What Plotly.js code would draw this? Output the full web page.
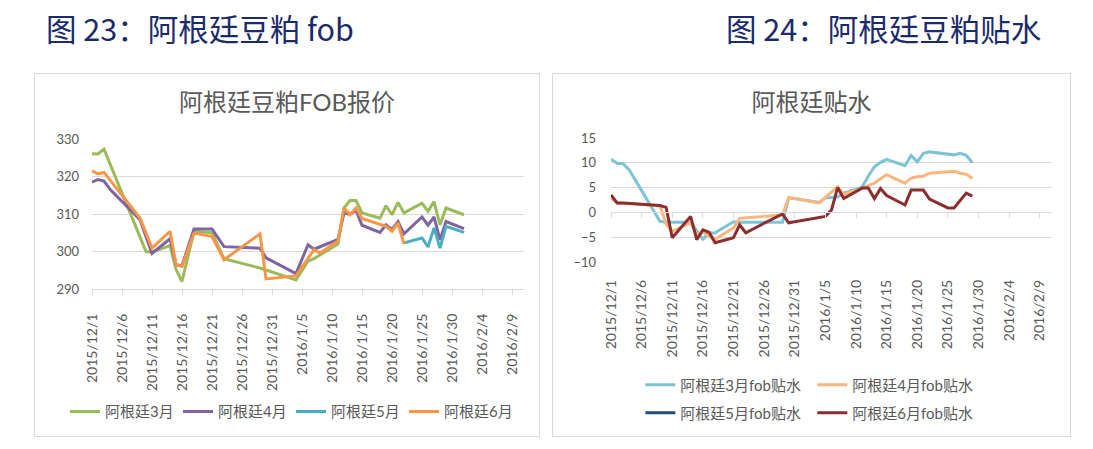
<!DOCTYPE html>
<html>
<head>
<meta charset="utf-8">
<script src="https://cdn.plot.ly/plotly-3.0.1.min.js"></script>
<style>
  html, body { margin: 0; padding: 0; background: #ffffff; width: 1093px; height: 449px; overflow: hidden; }
  .hdr { position: absolute; font-family: 'Noto Sans CJK SC', sans-serif; font-size: 30.5px; line-height: 32px; color: #1b2a6b; white-space: nowrap; }
  .frame { position: absolute; border: 1px solid #d9d9d9; background: #fff; }
</style>
</head>
<body>
<div class="hdr" style="left:46px; top:12px;">图 23：阿根廷豆粕 fob</div>
<div class="hdr" style="left:726px; top:12px;">图 24：阿根廷豆粕贴水</div>
<div class="frame" style="left:34px; top:73px;"><div id="c1" style="width:504px;height:362px;"></div></div>
<div class="frame" style="left:552px; top:73px;"><div id="c2" style="width:517px;height:362px;"></div></div>
<script>
// ---------- Chart 23: Argentine soymeal FOB quotes ----------
const fobDates = ['2015-12-01','2015-12-02','2015-12-03','2015-12-04','2015-12-09','2015-12-10','2015-12-11','2015-12-14','2015-12-15','2015-12-16','2015-12-18','2015-12-21','2015-12-23','2015-12-29','2015-12-30','2016-01-04','2016-01-06','2016-01-07','2016-01-08','2016-01-11','2016-01-12','2016-01-13','2016-01-14','2016-01-15','2016-01-18','2016-01-19','2016-01-20','2016-01-21','2016-01-22','2016-01-25','2016-01-26','2016-01-27','2016-01-28','2016-01-29','2016-02-01'];
const fobMar = [326.1,326.0,327.3,null,null,300.0,299.8,301.6,295.2,292.0,305.4,305.0,298.1,295.6,null,292.4,297.4,298.1,null,302.0,311.6,313.6,313.6,310.3,308.9,312.2,309.8,313.1,310.3,312.9,310.7,313.3,307.1,311.6,309.8];
const fobApr = [318.5,319.2,318.8,316.6,308.5,null,299.5,303.4,296.5,296.2,306.0,306.0,301.3,300.9,298.3,294.1,301.8,300.6,null,303.2,310.3,309.9,311.0,307.0,305.1,307.1,305.9,308.0,304.7,309.2,307.0,309.2,303.1,308.0,306.1];
const fobMay = [null,null,null,null,null,null,null,null,null,null,null,null,null,null,null,null,null,null,null,null,null,null,null,null,null,null,null,null,302.3,303.6,301.2,306.3,300.9,306.7,305.1];
const fobJun = [321.5,320.7,321.1,null,308.9,null,300.9,305.4,296.5,296.0,304.9,304.0,297.8,304.7,292.7,293.5,null,300.5,299.6,302.8,311.6,309.8,311.6,308.8,null,306.7,305.4,307.6,302.0,null,null,null,null,null,null];
const fobNames = ['阿根廷3月','阿根廷4月','阿根廷5月','阿根廷6月'];
const fobColors = ['#9BBB59','#8064A2','#4BACC6','#F79646'];

// ---------- Chart 24: Argentine premiums ----------
const premDates = ['2015-12-01','2015-12-02','2015-12-03','2015-12-04','2015-12-09','2015-12-10','2015-12-11','2015-12-14','2015-12-15','2015-12-16','2015-12-17','2015-12-18','2015-12-21','2015-12-22','2015-12-23','2015-12-29','2015-12-30','2015-12-31','2016-01-04','2016-01-05','2016-01-06','2016-01-07','2016-01-08','2016-01-11','2016-01-12','2016-01-13','2016-01-14','2016-01-15','2016-01-18','2016-01-19','2016-01-20','2016-01-21','2016-01-22','2016-01-25','2016-01-26','2016-01-27','2016-01-28','2016-01-29'];
const premMar = [10.7,9.9,9.8,8.5,-1.8,-2.0,-2.0,-2.0,null,-5.4,-4.2,-4.1,-1.9,-2.0,-2.0,-2.0,2.9,2.8,2.0,2.9,3.0,3.1,3.9,5.1,7.3,9.2,10.1,10.7,9.4,11.5,10.2,11.9,12.2,11.8,11.6,11.9,11.5,10.0];
const premApr = [2.9,1.9,1.8,1.8,1.3,-2.4,-3.8,-2.1,-4.4,-4.0,-4.8,-5.4,-3.1,-1.2,-1.1,-0.5,3.0,2.8,1.9,null,null,5.2,3.6,4.9,5.4,5.9,6.8,7.6,5.9,6.9,7.2,7.3,7.9,8.1,8.3,7.9,7.7,6.9];
const premMay = [null];
const premJun = [3.5,1.9,1.9,1.8,1.4,1.0,-5.1,-0.8,-5.5,-3.5,-4.0,-6.1,-5.1,-2.5,-4.1,-0.3,-2.1,-1.9,-1.0,-0.8,0.5,5.0,2.8,4.9,4.9,2.8,4.8,3.4,1.5,4.5,4.5,4.5,2.7,0.9,0.9,null,3.9,3.3];
const premNames = ['阿根廷3月fob贴水','阿根廷4月fob贴水','阿根廷5月fob贴水','阿根廷6月fob贴水'];
const premColors = ['#7CC3D6','#FAB67E','#254A7C','#8B2E2E'];

const FONT = "Lato, 'Noto Sans CJK SC', sans-serif";
const GREY = '#595959';
const GRID = '#d9d9d9';
const FIVE_DAYS = 5 * 24 * 3600 * 1000;
const X_RANGE = ['2015-12-01', '2016-02-11'];

function xAxisBase(standoff) {
  return {
    type: 'date', range: X_RANGE, tick0: '2015-12-01', dtick: FIVE_DAYS,
    tickformat: '%Y/%-m/%-d', tickangle: -90, showgrid: false, zeroline: false,
    ticklabelstandoff: standoff, automargin: false,
    tickfont: {family: FONT, size: 14, color: GREY}, fixedrange: true
  };
}

// Chart 1
const t1 = [fobMar, fobApr, fobMay, fobJun].map((ys, i) => ({
  type: 'scatter', mode: 'lines', x: fobDates, y: ys, name: fobNames[i],
  connectgaps: true, line: {color: fobColors[i], width: 3},
  legend: i < 2 ? 'legend' : 'legend2'
}));
const legend1Style = {orientation: 'h', xref: 'container', xanchor: 'left', y: 0.067, yref: 'container', yanchor: 'middle', entrywidth: 68, entrywidthmode: 'pixels', font: {family: FONT, size: 15, color: GREY}, bgcolor: 'rgba(0,0,0,0)'};
const l1 = {
  width: 504, height: 362, margin: {l: 57, r: 15, t: 65, b: 147},
  paper_bgcolor: '#ffffff', plot_bgcolor: '#ffffff',
  font: {family: FONT, color: GREY},
  title: {text: '阿根廷豆粕FOB报价', font: {family: FONT, size: 24, color: GREY}, x: 0.5, xref: 'container', xanchor: 'center', y: 0.92, yref: 'container', yanchor: 'middle'},
  xaxis: Object.assign(xAxisBase(13), {ticks: 'outside', ticklen: 5, tickcolor: GRID, showline: true, linecolor: GRID, linewidth: 1}),
  yaxis: {range: [290, 330], dtick: 10, gridcolor: GRID, gridwidth: 1, zeroline: false, showline: false, ticks: '', ticklabelstandoff: 12, automargin: false, tickfont: {family: FONT, size: 13, color: GREY}, fixedrange: true},
  showlegend: true,
  legend: Object.assign({x: 0.0595}, legend1Style),
  legend2: Object.assign({x: 0.508}, legend1Style)
};
Plotly.newPlot('c1', t1, l1, {displayModeBar: false, staticPlot: true});

// Chart 2
const t2 = [premMar, premApr, premMay, premJun].map((ys, i) => ({
  type: 'scatter', mode: 'lines', x: premDates.slice(0, ys.length), y: ys, name: premNames[i],
  connectgaps: true, line: {color: premColors[i], width: 3},
  legend: i < 2 ? 'legend' : 'legend2'
}));
t2.push({type: 'scatter', mode: 'lines', x: [], y: [], xaxis: 'x2', showlegend: false, hoverinfo: 'skip'});
const legendStyle = {orientation: 'h', xref: 'container', xanchor: 'left', yanchor: 'middle', yref: 'container', entrywidth: 127, entrywidthmode: 'pixels', font: {family: FONT, size: 15, color: GREY}, bgcolor: 'rgba(0,0,0,0)'};
const l2 = {
  width: 517, height: 362, margin: {l: 58, r: 18, t: 64, b: 174},
  paper_bgcolor: '#ffffff', plot_bgcolor: '#ffffff',
  font: {family: FONT, color: GREY},
  title: {text: '阿根廷贴水', font: {family: FONT, size: 24, color: GREY}, x: 0.5, xref: 'container', xanchor: 'center', y: 0.92, yref: 'container', yanchor: 'middle'},
  xaxis: Object.assign(xAxisBase(14), {ticks: '', showline: false}),
  xaxis2: Object.assign(xAxisBase(0), {overlaying: 'x', anchor: 'free', position: 0.4, side: 'bottom', showticklabels: false, ticks: 'outside', ticklen: 5, tickcolor: GRID, showline: true, linecolor: GRID, linewidth: 1}),
  yaxis: {range: [-10, 15], dtick: 5, gridcolor: GRID, gridwidth: 1, zeroline: false, showline: false, ticks: '', ticklabelstandoff: 14, automargin: false, tickfont: {family: FONT, size: 13, color: GREY}, fixedrange: true},
  showlegend: true,
  legend: Object.assign({x: 0.169, y: 0.141}, legendStyle),
  legend2: Object.assign({x: 0.169, y: 0.0635}, legendStyle)
};
Plotly.newPlot('c2', t2, l2, {displayModeBar: false, staticPlot: true});
</script>
</body>
</html>
